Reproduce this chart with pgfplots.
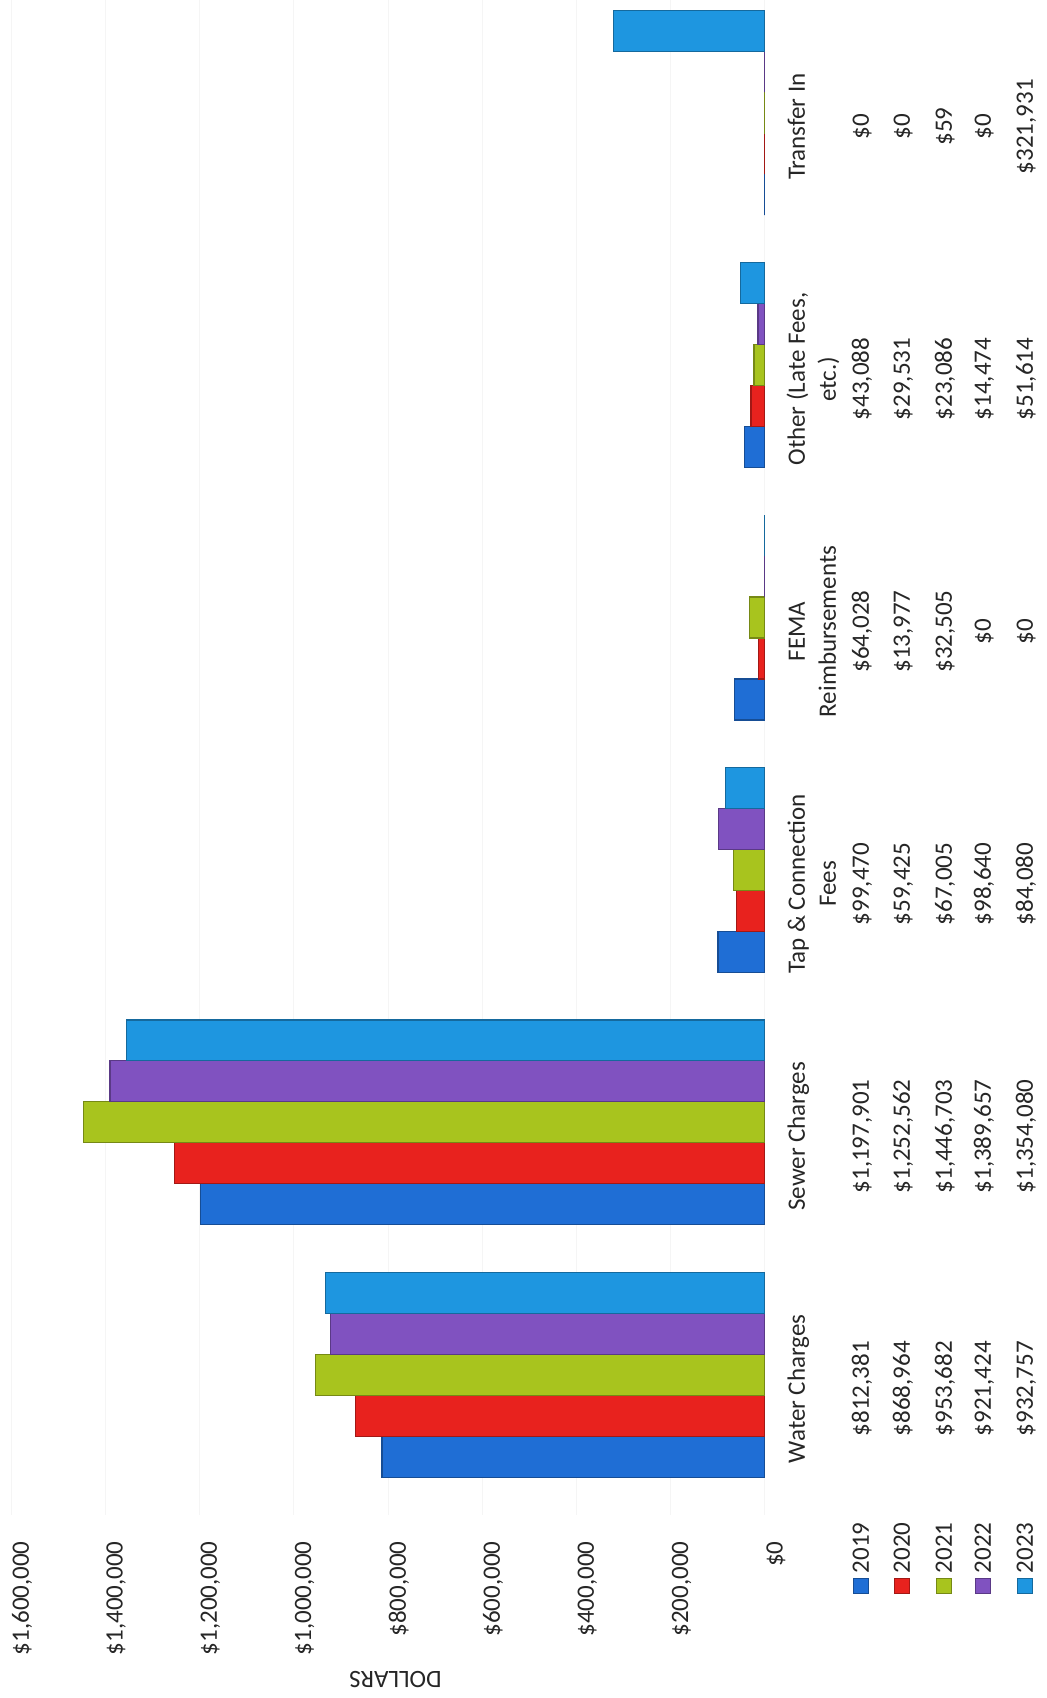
\documentclass[border=0pt]{standalone}
\usepackage{pgfplots}
\pgfplotsset{compat=1.18}
\usepackage{fontspec}
\setmainfont{Carlito}

\definecolor{c19}{RGB}{31,110,213}
\definecolor{c20}{RGB}{232,34,30}
\definecolor{c21}{RGB}{168,196,30}
\definecolor{c22}{RGB}{128,82,192}
\definecolor{c23}{RGB}{30,150,224}

\newcommand\cellfont{\fontsize{12.5}{15}\selectfont}

\begin{document}
\begin{tikzpicture}[rotate=90, transform shape]
\begin{axis}[
  scale only axis, width=757.5pt, height=377pt,
  xmin=-0.5, xmax=5.5, ymin=0, ymax=1600000,
  ybar, bar width=20.5pt,
  axis line style={draw=none},
  major tick length=0pt,
  xtick=\empty,
  ytick={0,200000,...,1600000},
  scaled y ticks=false,
  ymajorgrids, grid style={black!4, line width=0.4pt},
  /pgf/number format/.cd, fixed, precision=0, 1000 sep={,}, assume math mode=true, /pgfplots/.cd,
  yticklabel={\$\pgfmathprintnumber{\tick}},
  yticklabel style={font=\cellfont, anchor=east, inner sep=0pt, xshift=-13pt, yshift=-5.5pt, text=black!85},
  ylabel={DOLLARS},
  every axis y label/.style={at={(axis description cs:-0.1089,0.49)}, anchor=center, rotate=90, font=\cellfont, text=black!85},
  every axis plot/.append style={line width=0.6pt},
  clip=false,
]
% revenue by source, one series per year
\addplot[fill=c19, draw=c19!70!black, bar shift=-34pt]
  coordinates {(0,812381) (1,1197901) (2,99470) (3,64028) (4,43088) (5,0)};
\addplot[fill=c20, draw=c20!70!black, bar shift=-13.5pt]
  coordinates {(0,868964) (1,1252562) (2,59425) (3,13977) (4,29531) (5,0)};
\addplot[fill=c21, draw=c21!70!black, bar shift=7pt]
  coordinates {(0,953682) (1,1446703) (2,67005) (3,32505) (4,23086) (5,59)};
\addplot[fill=c22, draw=c22!70!black, bar shift=27.5pt]
  coordinates {(0,921424) (1,1389657) (2,98640) (3,0) (4,14474) (5,0)};
\addplot[fill=c23, draw=c23!70!black, bar shift=48pt]
  coordinates {(0,932757) (1,1354080) (2,84080) (3,0) (4,51614) (5,321931)};

% data table below the plot
\newcommand\tcell[3]{\node[font=\cellfont, text=black!85, anchor=base, inner sep=0pt, yshift=#2] at (axis cs:#1,0) {#3};}
\newcommand\trow[7]{\tcell{0}{#1}{#2}\tcell{1}{#1}{#3}\tcell{2}{#1}{#4}\tcell{3}{#1}{#5}\tcell{4}{#1}{#6}\tcell{5}{#1}{#7}}
\newcommand\lkey[4]{%
  \node[fill=#1, draw=#1!70!black, minimum size=7.5pt, inner sep=0pt, xshift=-35.25pt, yshift=#3] at (rel axis cs:0,0) {};
  \node[font=\cellfont, text=black!85, anchor=base east, inner sep=0pt, xshift=-3.5pt, yshift=#2] at (rel axis cs:0,0) {#4};}

\tcell{0}{-20pt}{Water Charges}
\tcell{1}{-20pt}{Sewer Charges}
\tcell{2}{-20pt}{Tap \& Connection}
\tcell{2}{-35.5pt}{Fees}
\tcell{3}{-20pt}{FEMA}
\tcell{3}{-35.5pt}{Reimbursements}
\tcell{4}{-20pt}{Other (Late Fees,}
\tcell{4}{-35.5pt}{etc.)}
\tcell{5}{-20pt}{Transfer In}

\lkey{c19}{-52pt}{-48pt}{2019}
\lkey{c20}{-72.5pt}{-68.5pt}{2020}
\lkey{c21}{-93.5pt}{-89.5pt}{2021}
\lkey{c22}{-113pt}{-109pt}{2022}
\lkey{c23}{-134pt}{-130pt}{2023}

\trow{-52pt}{\$812,381}{\$1,197,901}{\$99,470}{\$64,028}{\$43,088}{\$0}
\trow{-72.5pt}{\$868,964}{\$1,252,562}{\$59,425}{\$13,977}{\$29,531}{\$0}
\trow{-93.5pt}{\$953,682}{\$1,446,703}{\$67,005}{\$32,505}{\$23,086}{\$59}
\trow{-113pt}{\$921,424}{\$1,389,657}{\$98,640}{\$0}{\$14,474}{\$0}
\trow{-134pt}{\$932,757}{\$1,354,080}{\$84,080}{\$0}{\$51,614}{\$321,931}

% page extent
\path (rel axis cs:0,0) ++(-91.5pt,-141pt) rectangle ([shift={(0pt,5.5pt)}]rel axis cs:1,1);
\end{axis}
\end{tikzpicture}
\end{document}
